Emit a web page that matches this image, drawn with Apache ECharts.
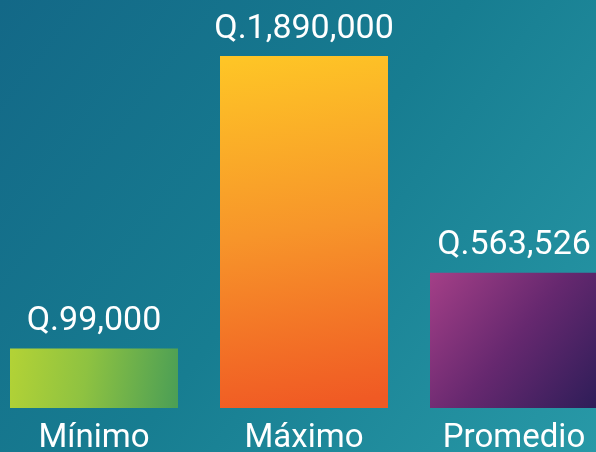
<!DOCTYPE html>
<html>
<head>
<meta charset="utf-8">
<script src="https://cdn.jsdelivr.net/npm/echarts@6/dist/echarts.min.js"></script>
<style>
	html, body { margin: 0; padding: 0; }
	#chart { width: 596px; height: 452px; }
</style>
</head>
<body>
<div id="chart"></div>
<script>
	var categories = ['Mínimo', 'Máximo', 'Promedio'];
	var values = [99000, 1890000, 563526];
	var valueLabels = ['Q.99,000', 'Q.1,890,000', 'Q.563,526'];

	function grad(x, y, x2, y2, stops) {
		return new echarts.graphic.LinearGradient(x, y, x2, y2, stops);
	}

	var barColors = [
		grad(0, 0.3, 1, 0.7, [
			{ offset: 0, color: '#b2d236' },
			{ offset: 0.45, color: '#8ec241' },
			{ offset: 1, color: '#4c9f55' }
		]),
		grad(0.2, 0, 0.5, 1, [
			{ offset: 0, color: '#fec526' },
			{ offset: 0.5, color: '#f7952a' },
			{ offset: 1, color: '#f05a24' }
		]),
		grad(0, 0, 1, 1, [
			{ offset: 0, color: '#a43f87' },
			{ offset: 0.5, color: '#66286f' },
			{ offset: 1, color: '#2d1d58' }
		])
	];

	var data = [];
	for (var i = 0; i < values.length; i++) {
		data.push({
			value: values[i],
			itemStyle: { color: barColors[i] },
			label: { formatter: valueLabels[i] }
		});
	}

	var option = {
		animation: false,
		backgroundColor: grad(0, 0, 1, 1, [
			{ offset: 0, color: '#136887' },
			{ offset: 0.5, color: '#177d91' },
			{ offset: 1, color: '#2899a7' }
		]),
		grid: {
			left: -11,
			right: -23,
			top: 56,
			bottom: 44,
			outerBoundsMode: 'none'
		},
		xAxis: {
			type: 'category',
			data: categories,
			axisLine: { show: false },
			axisTick: { show: false },
			axisLabel: {
				color: '#ffffff',
				fontFamily: 'Roboto',
				fontSize: 33,
				margin: 14
			}
		},
		yAxis: {
			type: 'value',
			// baseline below zero so the short bars keep the reference's heights
			min: -265000,
			max: 1890000,
			startValue: -265000,
			show: false,
			splitLine: { show: false }
		},
		series: [{
			type: 'bar',
			data: data,
			barWidth: 168,
			label: {
				show: true,
				position: 'top',
				distance: 10,
				color: '#ffffff',
				fontFamily: 'Roboto',
				fontSize: 34
			}
		}]
	};

	var chart = echarts.init(document.getElementById('chart'));
	chart.setOption(option);
</script>
</body>
</html>
